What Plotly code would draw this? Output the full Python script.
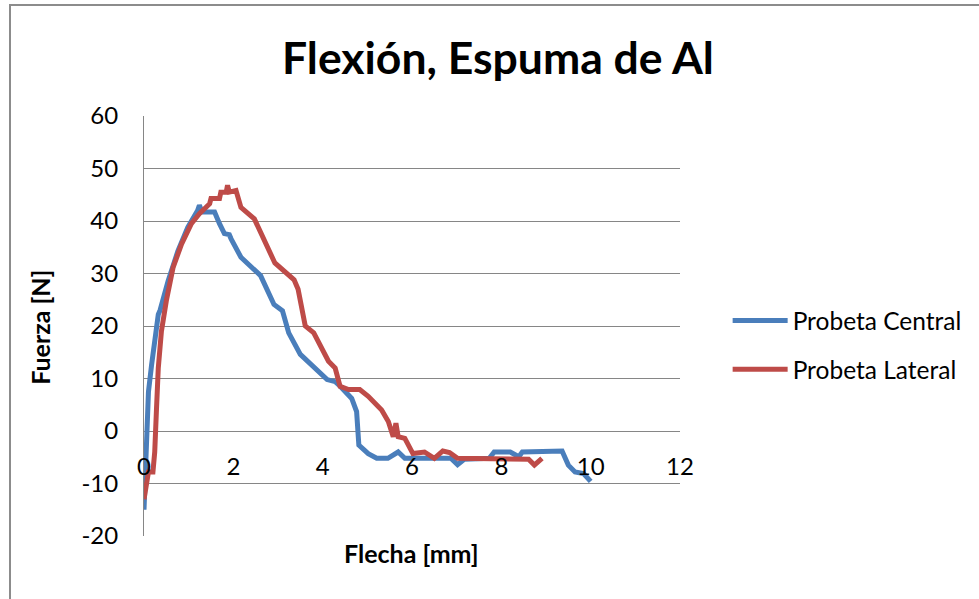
import plotly.graph_objects as go

# Deflection [mm] vs. force [N] for the two aluminium-foam specimens
central_x = [0.0, 0.02, 0.06, 0.10, 0.17, 0.24, 0.32, 0.36, 0.54, 0.76, 0.98, 1.20, 1.24,
             1.30, 1.58, 1.69, 1.80, 1.91, 1.95, 2.17, 2.61, 2.91, 3.10, 3.24, 3.50, 4.10,
             4.28, 4.36, 4.65, 4.76, 4.81, 5.02, 5.21, 5.46, 5.69, 5.84, 6.87, 7.02, 7.17,
             7.73, 7.84, 8.20, 8.39, 8.47, 9.36, 9.50, 9.65, 9.84, 10.0]
central_y = [-15.0, -9.7, 0.0, 7.5, 12.6, 17.7, 22.2, 23.0, 28.6, 34.3, 38.8, 42.0, 43.0,
             41.7, 41.7, 39.5, 37.6, 37.4, 36.6, 33.1, 29.6, 24.1, 22.9, 18.7, 14.6, 9.8,
             9.4, 8.8, 6.2, 3.7, -2.7, -4.3, -5.2, -5.2, -4.0, -5.2, -5.2, -6.4, -5.4,
             -5.2, -4.0, -4.0, -4.9, -4.0, -3.8, -6.5, -7.8, -8.1, -9.6]

lateral_x = [0.0, 0.02, 0.10, 0.20, 0.24, 0.28, 0.32, 0.39, 0.50, 0.65, 0.84, 1.06, 1.24,
             1.47, 1.50, 1.69, 1.72, 1.84, 1.87, 1.91, 2.06, 2.17, 2.47, 2.93, 3.36, 3.45,
             3.61, 3.80, 4.13, 4.28, 4.39, 4.58, 4.83, 5.02, 5.32, 5.47, 5.58, 5.64, 5.69,
             5.84, 6.02, 6.28, 6.50, 6.69, 6.84, 7.02, 8.61, 8.74, 8.91]
lateral_y = [-13.0, -12.0, -7.8, -7.8, -4.0, 4.3, 12.0, 19.0, 24.8, 31.1, 35.6, 39.5, 41.4,
             43.3, 44.3, 44.3, 45.5, 45.5, 46.8, 45.5, 45.8, 42.6, 40.4, 32.0, 28.8, 27.0,
             20.0, 18.7, 13.3, 12.0, 8.5, 7.9, 7.9, 6.6, 4.0, 1.8, -1.1, 1.5, -1.1,
             -1.4, -4.3, -4.0, -5.2, -3.8, -4.1, -5.2, -5.4, -6.5, -5.2]

x_ticks = [0, 2, 4, 6, 8, 10, 12]
y_ticks = [-20, -10, 0, 10, 20, 30, 40, 50, 60]
y_ticktext = ["-20", "-10", "0", "10", "20", "30", "40", "50", "60"]

FONT = "Lato"
GRID = "#868686"

fig = go.Figure()
fig.add_trace(go.Scatter(x=central_x, y=central_y, mode="lines", name="Probeta Central",
                         legendgroup="c",
                         line=dict(color="#4A7EBB", width=5)))
fig.add_trace(go.Scatter(x=lateral_x, y=lateral_y, mode="lines", name="Probeta Lateral",
                         legendgroup="l",
                         line=dict(color="#BE4B48", width=5)))

L, R, T, B = 144, 295, 116, 63
PW, PH = 979 - L - R, 599 - T - B


def px(x):
    return (x - L) / PW


def py(y):
    return (599 - B - y) / PH


fig.update_layout(
    width=979, height=599,
    margin=dict(l=L, r=R, t=T, b=B),
    paper_bgcolor="white", plot_bgcolor="white",
    font=dict(family=FONT, color="black"),
    showlegend=True,
    legend=dict(x=px(732), y=py(298), xanchor="left", yanchor="top",
                font=dict(size=24.5, family=FONT), itemwidth=55,
                tracegroupgap=14, bgcolor="rgba(0,0,0,0)"),
    xaxis=dict(range=[0, 12], tickvals=x_ticks, showgrid=False, zeroline=False,
               showline=False, anchor="free", position=py(450),
               tickfont=dict(size=24, family=FONT), ticks=""),
    yaxis=dict(range=[-20, 60], tickvals=y_ticks, ticktext=y_ticktext,
               showgrid=True, gridcolor=GRID,
               gridwidth=1, zeroline=False, showline=True, linecolor=GRID, linewidth=1,
               tickfont=dict(size=24, family=FONT), ticks="", ticklabelstandoff=20),
    annotations=[
        dict(text="<b>Flexión, Espuma de Al</b>", xref="paper", yref="paper",
             x=px(501), y=py(56), xanchor="center", yanchor="middle", showarrow=False,
             font=dict(size=44.5, family=FONT)),
        dict(text="<b>Flecha [mm]</b>", xref="paper", yref="paper",
             x=px(413), y=py(553), xanchor="center", yanchor="middle", showarrow=False,
             font=dict(size=25, family=FONT)),
        dict(text="<b>Fuerza [N]</b>", xref="paper", yref="paper", textangle=-90,
             x=px(39), y=py(327), xanchor="center", yanchor="middle", showarrow=False,
             font=dict(size=25, family=FONT)),
    ],
    shapes=[
        dict(type="rect", xref="paper", yref="paper",
             x0=px(9), x1=px(990), y0=py(610), y1=py(5),
             line=dict(color="#8C8C8C", width=2), fillcolor="rgba(0,0,0,0)", layer="below"),
    ],
)

fig.write_html("out.html")
